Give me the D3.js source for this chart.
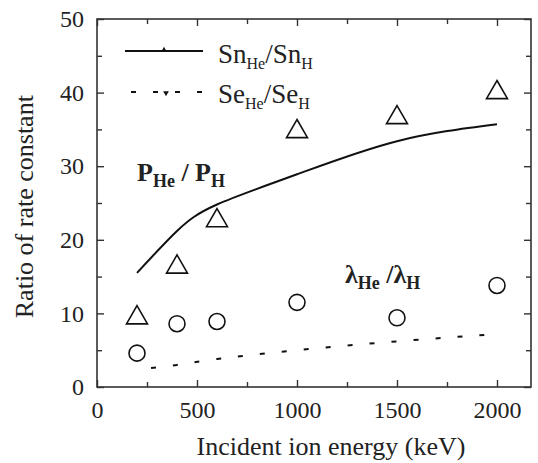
<!DOCTYPE html>
<html>
<head>
<meta charset="UTF-8">
<script src="https://cdn.jsdelivr.net/npm/d3@7"></script>
</head>
<body style="margin:0">
<script>

var width = 538,
    height = 463
var serif = "Liberation Serif"

// data
var energy = [200, 400, 600, 1000, 1500, 2000]
var snRatio = [15.5, 21.2, 24.8, 28.9, 33.4, 35.7]
var seRatio = [2.4, 3.0, 3.8, 5.0, 6.2, 7.2]
var pRatio = [9.4, 16.3, 22.6, 34.7, 36.6, 40.0]
var lambdaRatio = [4.6, 8.6, 8.9, 11.5, 9.4, 13.8]

var xMajor = [0, 500, 1000, 1500, 2000]
var xMinor = [250, 750, 1250, 1750]
var yMajor = [0, 10, 20, 30, 40, 50]
var yMinor = [5, 15, 25, 35, 45]

var margin = {top: 19, right: 7, bottom: 76, left: 97}
var w = width - margin.left - margin.right,
    h = height - margin.top - margin.bottom

var svg = d3.select("body").append("svg")
    .attr("width", width)
    .attr("height", height)

var g = svg.append("g")
    .attr("transform", "translate(" + margin.left + "," + margin.top + ")")

var x = d3.scaleLinear().domain([0, 2170]).range([0, w])
var y = d3.scaleLinear().domain([0, 50]).range([h, 0])

// axes with inward ticks on all four sides
function styleAxis(sel) {
  sel.attr("font-family", serif).attr("font-size", 24)
  sel.select(".domain").remove()
  sel.selectAll(".tick line").attr("stroke", "#333").attr("stroke-width", 1.4)
  sel.selectAll(".tick text").attr("fill", "#222")
}

g.append("g").attr("transform", "translate(0," + h + ")")
  .call(d3.axisBottom(x).tickValues(xMajor).tickSize(-7).tickPadding(14).tickFormat(d3.format("d")))
  .call(styleAxis)
g.append("g").attr("transform", "translate(0," + h + ")")
  .call(d3.axisBottom(x).tickValues(xMinor).tickSize(-5).tickFormat(""))
  .call(styleAxis)
g.append("g")
  .call(d3.axisTop(x).tickValues(xMajor).tickSize(-7).tickFormat(""))
  .call(styleAxis)
g.append("g")
  .call(d3.axisTop(x).tickValues(xMinor).tickSize(-5).tickFormat(""))
  .call(styleAxis)

g.append("g")
  .call(d3.axisLeft(y).tickValues(yMajor).tickSize(-7).tickPadding(13))
  .call(styleAxis)
g.append("g")
  .call(d3.axisLeft(y).tickValues(yMinor).tickSize(-5).tickFormat(""))
  .call(styleAxis)
g.append("g").attr("transform", "translate(" + w + ",0)")
  .call(d3.axisRight(y).tickValues(yMajor).tickSize(-7).tickFormat(""))
  .call(styleAxis)
g.append("g").attr("transform", "translate(" + w + ",0)")
  .call(d3.axisRight(y).tickValues(yMinor).tickSize(-5).tickFormat(""))
  .call(styleAxis)

g.append("rect")
  .attr("width", w).attr("height", h)
  .attr("fill", "none").attr("stroke", "#333").attr("stroke-width", 1.6)

// curves
var line = d3.line()
  .x(function(d) { return x(d[0]) })
  .y(function(d) { return y(d[1]) })
  .curve(d3.curveNatural)

g.append("path")
  .datum(d3.zip(energy, snRatio))
  .attr("d", line)
  .attr("fill", "none").attr("stroke", "#111").attr("stroke-width", 2)

g.append("path")
  .datum(d3.zip(energy, seRatio))
  .attr("d", line)
  .attr("fill", "none").attr("stroke", "#111").attr("stroke-width", 2)
  .attr("stroke-dasharray", "5,17")
  .attr("stroke-dashoffset", -14)

// symbols
var tri = d3.symbol().type(d3.symbolTriangle).size(190)

g.selectAll(".tri").data(d3.zip(energy, pRatio)).enter()
  .append("path").attr("class", "tri")
  .attr("d", tri)
  .attr("transform", function(d) { return "translate(" + x(d[0]) + "," + y(d[1]) + ")" })
  .attr("fill", "none").attr("stroke", "#111").attr("stroke-width", 1.6)

g.selectAll(".circ").data(d3.zip(energy, lambdaRatio)).enter()
  .append("circle").attr("class", "circ")
  .attr("cx", function(d) { return x(d[0]) })
  .attr("cy", function(d) { return y(d[1]) })
  .attr("r", 8)
  .attr("fill", "none").attr("stroke", "#111").attr("stroke-width", 1.6)

// legend
var lg = svg.append("g")
lg.append("line").attr("x1", 125).attr("x2", 203).attr("y1", 51).attr("y2", 51)
  .attr("stroke", "#111").attr("stroke-width", 2)
lg.append("path").attr("d", d3.symbol().type(d3.symbolTriangle).size(14))
  .attr("transform", "translate(164,50)").attr("fill", "#111")
lg.append("line").attr("x1", 131).attr("x2", 203).attr("y1", 92).attr("y2", 92)
  .attr("stroke", "#111").attr("stroke-width", 2)
  .attr("stroke-dasharray", "5,17")
lg.append("path").attr("d", d3.symbol().type(d3.symbolTriangle).size(14))
  .attr("transform", "translate(166,93) rotate(180)").attr("fill", "#111")

// text parts: [string, isSubscript]
function subText(parent, xPos, yPos, parts, size, subSize, weight) {
  var t = parent.append("text")
    .attr("x", xPos).attr("y", yPos)
    .attr("font-family", serif)
    .attr("font-size", size)
    .attr("font-weight", weight)
    .attr("fill", "#222")
  var prevSub = false
  parts.forEach(function(p) {
    var dy = 0
    if (p[1] && !prevSub) dy = 6
    if (!p[1] && prevSub) dy = -6
    t.append("tspan")
      .attr("dy", dy)
      .attr("font-family", serif)
      .attr("font-size", p[1] ? subSize : size)
      .text(p[0])
    prevSub = p[1]
  })
  return t
}

subText(lg, 218, 63, [["Sn", 0], ["He", 1], ["/Sn", 0], ["H", 1]], 27, 16, "normal")
subText(lg, 218, 103, [["Se", 0], ["He", 1], ["/Se", 0], ["H", 1]], 27, 16, "normal")

subText(svg, 137, 181, [["P", 0], ["He", 1], [" / P", 0], ["H", 1]], 26, 18, "bold")
subText(svg, 345, 283, [["\u03bb", 0], ["He", 1], [" /\u03bb", 0], ["H", 1]], 26, 18, "bold")

// axis titles
svg.append("text")
  .attr("x", margin.left + x(1170)).attr("y", 455)
  .attr("text-anchor", "middle")
  .attr("font-family", serif)
  .attr("font-size", 26)
  .attr("fill", "#222")
  .text("Incident ion energy (keV)")

svg.append("text")
  .attr("transform", "translate(33," + (margin.top + y(24.5)) + ") rotate(-90)")
  .attr("text-anchor", "middle")
  .attr("font-family", serif)
  .attr("font-size", 26)
  .attr("fill", "#222")
  .text("Ratio of rate constant")

</script>
</body>
</html>
